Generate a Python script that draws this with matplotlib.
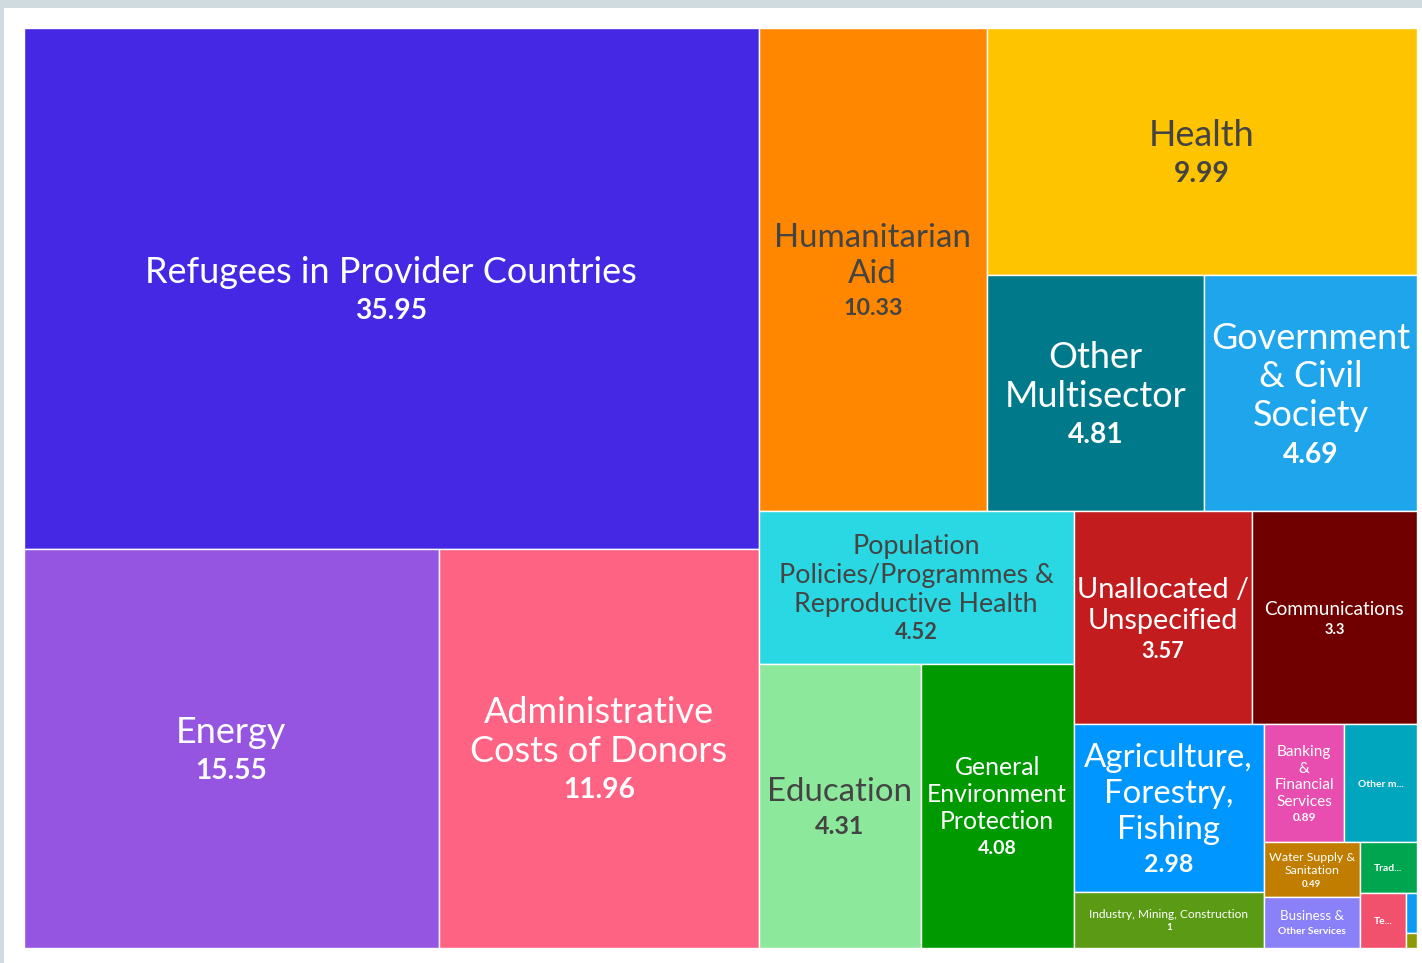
import matplotlib

matplotlib.use("Agg")
import matplotlib.pyplot as plt
from matplotlib.patches import Rectangle

# Sector totals, largest first (the treemap tiles them in this order)
sectors = [
    "Refugees in Provider Countries",
    "Energy",
    "Administrative Costs of Donors",
    "Humanitarian Aid",
    "Health",
    "Other Multisector",
    "Government & Civil Society",
    "Population Policies/Programmes & Reproductive Health",
    "Education",
    "General Environment Protection",
    "Unallocated / Unspecified",
    "Communications",
    "Agriculture, Forestry, Fishing",
    "Industry, Mining, Construction",
    "Banking & Financial Services",
    "Other m...",
    "Water Supply & Sanitation",
    "Business & Other Services",
    "Trad...",
    "Te...",
    "Unlabelled A",
    "Unlabelled B",
]
values = [35.95, 15.55, 11.96, 10.33, 9.99, 4.81, 4.69, 4.52, 4.31, 4.08, 3.57,
          3.3, 2.98, 1, 0.89, 0.8, 0.49, 0.46, 0.27, 0.24, 0.04, 0.015]
colors = ["#4428E4", "#9555E0", "#FF6384", "#FF8700", "#FFC400", "#007A8A",
          "#1FA5EB", "#2AD8E4", "#8CE89B", "#009A00", "#C21C1F", "#700000",
          "#0096FF", "#5A9A14", "#E84DB0", "#00A6BE", "#C07D00", "#8A80F8",
          "#00A550", "#F2516D", "#0A9BF5", "#8D9A00"]
light_tiles = {"Humanitarian Aid", "Health", "Education",
               "Population Policies/Programmes & Reproductive Health"}

# text lines shown in each tile: (text, size in px, bold); "{v}" is the value
tile_text = {
    "Refugees in Provider Countries": [("Refugees in Provider Countries", 35, False), ("{v}", 26, True)],
    "Energy": [("Energy", 35, False), ("{v}", 26, True)],
    "Administrative Costs of Donors": [("Administrative", 35, False), ("Costs of Donors", 35, False),
                                       ("{v}", 26, True)],
    "Humanitarian Aid": [("Humanitarian", 32, False), ("Aid", 32, False), ("{v}", 21.5, True)],
    "Health": [("Health", 35, False), ("{v}", 26, True)],
    "Other Multisector": [("Other", 35, False), ("Multisector", 35, False), ("{v}", 26, True)],
    "Government & Civil Society": [("Government", 35, False), ("& Civil", 35, False),
                                   ("Society", 35, False), ("{v}", 26, True)],
    "Population Policies/Programmes & Reproductive Health": [
        ("Population", 26, False), ("Policies/Programmes &", 26, False),
        ("Reproductive Health", 26, False), ("{v}", 20, True)],
    "Education": [("Education", 32, False), ("{v}", 23, True)],
    "General Environment Protection": [("General", 24, False), ("Environment", 24, False),
                                       ("Protection", 24, False), ("{v}", 18, True)],
    "Unallocated / Unspecified": [("Unallocated /", 28, False), ("Unspecified", 28, False),
                                  ("{v}", 20, True)],
    "Communications": [("Communications", 18.5, False), ("{v}", 13.5, True)],
    "Agriculture, Forestry, Fishing": [("Agriculture,", 32, False), ("Forestry,", 32, False),
                                       ("Fishing", 32, False), ("{v}", 23, True)],
    "Industry, Mining, Construction": [("Industry, Mining, Construction", 11.5, False),
                                       ("{v}", 9, True)],
    "Banking & Financial Services": [("Banking", 15, False), ("&", 15, False),
                                     ("Financial", 15, False), ("Services", 15, False),
                                     ("{v}", 11, True)],
    "Other m...": [("Other m...", 10, True)],
    "Water Supply & Sanitation": [("Water Supply &", 12, False), ("Sanitation", 12, False),
                                  ("{v}", 9, True)],
    "Business & Other Services": [("Business &", 13, False), ("Other Services", 10, True)],
    "Trad...": [("Trad...", 10, True)],
    "Te...": [("Te...", 10, True)],
    "Unlabelled A": [],
    "Unlabelled B": [],
}

FONT = "Lato"
FONT_SCALE = 1.03
VALUE_SCALE = 1.05
W, H = 1422, 963
X0, Y0, X1, Y1 = 23.5, 27.7, 1416.7, 947.7


def binary_treemap(vals, x0, y0, x1, y1):
    """Balanced binary tiling, same rules as d3.treemapBinary"""
    sums = [0.0]
    for v in vals:
        sums.append(sums[-1] + v)
    rects = [None] * len(vals)

    def part(i, j, value, x0, y0, x1, y1):
        if i >= j - 1:
            rects[i] = (x0, y0, x1, y1)
            return
        offset = sums[i]
        target = value / 2 + offset
        k, hi = i + 1, j - 1
        while k < hi:
            mid = (k + hi) // 2
            if sums[mid] < target:
                k = mid + 1
            else:
                hi = mid
        if target - sums[k - 1] < sums[k] - target and i + 1 < k:
            k -= 1
        left = sums[k] - offset
        right = value - left
        if x1 - x0 > y1 - y0:
            xk = (x0 * right + x1 * left) / value
            part(i, k, left, x0, y0, xk, y1)
            part(k, j, right, xk, y0, x1, y1)
        else:
            yk = (y0 * right + y1 * left) / value
            part(i, k, left, x0, y0, x1, yk)
            part(k, j, right, x0, yk, x1, y1)

    part(0, len(vals), sums[-1], x0, y0, x1, y1)
    return rects


fig = plt.figure(figsize=(W / 100, H / 100), dpi=100)
fig.patch.set_facecolor("#D0DBE0")
ax = fig.add_axes([0, 0, 1, 1])
ax.set_xlim(0, W)
ax.set_ylim(H, 0)
ax.axis("off")

# white card behind the chart
ax.add_patch(Rectangle((4, 8), W - 4, H - 8, facecolor="white", edgecolor="none", zorder=0))

renderer = fig.canvas.get_renderer()
rects = binary_treemap(values, X0, Y0, X1, Y1)

for name, val, col, (rx0, ry0, rx1, ry1) in zip(sectors, values, colors, rects):
    ax.add_patch(Rectangle((rx0, ry0), rx1 - rx0, ry1 - ry0, facecolor=col,
                           edgecolor="white", linewidth=1.0, zorder=1))
    lines = tile_text[name]
    if not lines:
        continue
    txt_color = "#444444" if name in light_tiles else "white"
    sizes = [s * FONT_SCALE * (VALUE_SCALE if t == "{v}" else 1) for t, s, _ in lines]

    # line centres, then centre the whole block in the tile
    centres = [0.0]
    for s in sizes[:-1]:
        centres.append(centres[-1] + 1.08 * s)
    top = centres[0] - sizes[0] / 2
    bottom = centres[-1] + sizes[-1] / 2
    shift = (ry0 + ry1) / 2 - (top + bottom) / 2
    cx = (rx0 + rx1) / 2

    for (text, _, bold), s, c in zip(lines, sizes, centres):
        t = ax.text(cx, c + shift + 0.33 * s, text.format(v=f"{val:g}"),
                    ha="center", va="baseline", color=txt_color, family=FONT,
                    fontsize=s * 0.72, fontweight="bold" if bold else "normal", zorder=2)
        # shrink a line that would not fit inside its tile
        width = t.get_window_extent(renderer).width
        room = rx1 - rx0 - 4
        if width > room:
            t.set_fontsize(s * 0.72 * room / width)

fig.savefig("out.png", dpi=100, facecolor=fig.get_facecolor())
